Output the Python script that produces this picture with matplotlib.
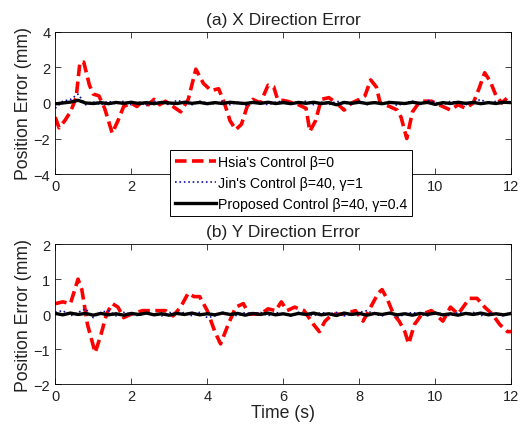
import numpy as np
import matplotlib
matplotlib.use("Agg")
import matplotlib.pyplot as plt

plt.rcParams['font.family'] = ['Liberation Sans', 'DejaVu Sans']

# Hsia's control (beta=0), X direction: (time, error) breakpoints
hsia_x_t = [0.0, 0.1, 0.25, 0.4, 0.55, 0.65, 0.75, 0.9, 1.0, 1.15, 1.3, 1.5, 1.65, 1.8,
            2.0, 2.15, 2.3, 2.45, 2.6, 2.75, 2.9, 3.1, 3.3, 3.5, 3.7, 3.9, 4.1, 4.3, 4.45,
            4.6, 4.75, 4.9, 5.05, 5.2, 5.4, 5.6, 5.75, 5.85, 6.1, 6.4, 6.6, 6.7, 6.85, 7.0,
            7.2, 7.4, 7.6, 7.8, 8.0, 8.15, 8.3, 8.45, 8.55, 8.8, 9.0, 9.1, 9.25, 9.4, 9.6,
            9.9, 10.2, 10.4, 10.6, 10.8, 11.0, 11.15, 11.3, 11.45, 11.6, 11.75, 11.9, 12.0]
hsia_x = [-0.8, -1.4, -1.0, -0.5, 0.3, 2.3, 2.3, 1.0, 0.5, 0.4, -0.3, -1.7, -1.0, -0.2,
          0.0, -0.2, 0.1, -0.1, 0.2, -0.1, 0.1, -0.2, -0.5, 0.2, 1.9, 1.1, 0.7, 0.8, 0.0,
          -1.0, -1.5, -1.2, -0.2, 0.2, 0.0, 1.0, 0.9, 0.2, 0.1, -0.1, -0.3, -1.6, -1.0, 0.2,
          0.3, 0.0, -0.4, 0.0, 0.2, 0.4, 1.3, 0.9, 0.0, -0.2, -0.4, -0.8, -2.0, -0.5, 0.1,
          0.1, -0.2, -0.4, -0.1, -0.3, 0.0, 0.8, 1.7, 1.2, 0.4, 0.0, 0.3, 0.2]

# Hsia's control, Y direction
hsia_y_t = [0.0, 0.2, 0.4, 0.6, 0.7, 0.85, 1.05, 1.2, 1.35, 1.5, 1.65, 1.8, 2.0, 2.3, 2.6,
            2.9, 3.1, 3.3, 3.5, 3.65, 3.8, 4.0, 4.2, 4.35, 4.55, 4.75, 4.95, 5.1, 5.4, 5.6,
            5.8, 5.95, 6.1, 6.3, 6.55, 6.8, 6.95, 7.1, 7.3, 7.6, 7.9, 8.1, 8.3, 8.5, 8.6,
            8.75, 8.9, 9.05, 9.2, 9.3, 9.45, 9.65, 9.9, 10.2, 10.4, 10.6, 10.9, 11.1, 11.3,
            11.5, 11.7, 11.9, 12.0]
hsia_y = [0.3, 0.35, 0.3, 1.0, 0.7, -0.3, -1.1, -0.6, 0.0, 0.3, 0.2, -0.1, 0.0, 0.1, 0.1,
          0.1, -0.05, 0.2, 0.6, 0.5, 0.5, 0.1, -0.5, -0.85, -0.3, 0.2, 0.3, 0.0, 0.0, 0.15,
          0.1, 0.35, 0.1, 0.2, 0.1, -0.3, -0.5, -0.2, 0.0, 0.0, 0.1, -0.2, 0.2, 0.6, 0.7,
          0.4, 0.0, -0.2, -0.5, -0.85, -0.3, 0.0, 0.1, -0.2, 0.2, 0.0, 0.45, 0.45, 0.2,
          0.0, -0.3, -0.5, -0.5]

# Jin's and proposed control, sampled every 0.2 s
t_fine = np.arange(61) * 0.2
jin_x = [-0.3, 0.1, 0.2, 0.5, -0.1, 0.05, -0.1, 0.1, -0.05, 0.1, -0.1, 0.05, -0.15, 0.1,
         0.0, -0.1, 0.15, 0.05, -0.1, 0.1, 0.0, -0.05, 0.1, -0.1, 0.05, -0.15, 0.1, 0.0,
         -0.1, 0.05, 0.1, -0.05, 0.0, 0.1, -0.1, 0.05, -0.1, 0.1, 0.0, -0.05, 0.1, -0.1,
         0.05, -0.05, 0.1, -0.15, 0.0, 0.1, -0.1, 0.15, 0.05, -0.1, 0.1, 0.0, -0.1, 0.05,
         0.2, -0.05, 0.1, 0.0, 0.1]
prop_x = [-0.05, 0.0, 0.05, 0.15, 0.0, -0.03, 0.02, -0.04, 0.03, -0.02, 0.04, -0.03, 0.02,
          -0.04, 0.03, 0.0, -0.03, 0.04, -0.02, 0.03, -0.04, 0.02, -0.03, 0.04, 0.0, -0.03,
          0.03, -0.02, 0.04, -0.03, 0.02, -0.04, 0.03, -0.02, 0.04, -0.03, 0.02, -0.1, 0.03,
          -0.02, 0.04, -0.03, 0.02, -0.04, 0.03, 0.0, -0.03, 0.04, -0.02, 0.03, -0.08, 0.02,
          -0.03, 0.04, -0.02, 0.03, -0.04, 0.02, -0.03, 0.04, 0.02]
jin_y = [0.05, 0.1, -0.05, 0.05, 0.15, -0.1, 0.05, 0.1, -0.05, 0.05, 0.0, -0.05, 0.05,
         0.0, -0.05, 0.05, 0.0, 0.05, -0.05, 0.05, -0.1, -0.05, 0.05, 0.0, -0.05, 0.05,
         0.0, 0.05, -0.05, 0.05, 0.0, -0.05, 0.05, 0.0, -0.05, 0.05, 0.0, 0.05, -0.05,
         0.0, 0.05, 0.1, 0.0, -0.05, 0.05, -0.1, 0.0, 0.05, 0.0, -0.05, 0.05, 0.0, -0.05,
         0.05, 0.0, 0.05, -0.05, 0.05, 0.0, -0.05, 0.05]
prop_y = [0.02, -0.02, 0.03, -0.01, 0.02, -0.03, 0.02, -0.02, 0.01, -0.03, 0.02, -0.01,
          0.03, -0.02, 0.01, -0.03, 0.02, -0.01, 0.03, -0.02, 0.01, -0.02, 0.03, -0.01,
          0.02, -0.03, 0.02, -0.01, 0.03, -0.02, 0.01, -0.03, 0.02, -0.01, 0.03, -0.02,
          0.01, -0.04, 0.03, -0.01, 0.02, -0.03, 0.02, -0.01, 0.03, -0.02, 0.01, -0.03,
          0.02, -0.01, 0.03, -0.02, 0.01, -0.03, 0.02, -0.01, 0.03, -0.02, 0.01, -0.02, 0.02]

labels = ["Hsia's Control β=0", "Jin's Control β=40, γ=1", "Proposed Control β=40, γ=0.4"]


def style_axes(ax, yticks):
    ax.set_xlim(0, 12)
    ax.set_ylim(yticks[0], yticks[-1])
    ax.set_xticks(range(0, 13, 2))
    ax.set_yticks(yticks)
    ax.tick_params(direction='in', top=True, right=True, labelsize=10.5, length=4, width=0.6,
                   colors='#222222')
    for s in ax.spines.values():
        s.set_linewidth(0.6)
    ax.set_ylabel('Position Error (mm)', fontsize=12.7, labelpad=1, color='#222222')


fig = plt.figure(figsize=(5.26, 4.27), dpi=100)
ax1 = fig.add_axes([0.105, 0.590, 0.867, 0.333])
ax2 = fig.add_axes([0.105, 0.098, 0.867, 0.328])

for ax, hx, hy, jy, py in [(ax1, hsia_x_t, hsia_x, jin_x, prop_x),
                           (ax2, hsia_y_t, hsia_y, jin_y, prop_y)]:
    l1, = ax.plot(hx, hy, color='red', lw=2.6, dashes=(3.2, 1.5))
    l2, = ax.plot(t_fine, jy, color='#1010b0', lw=1.2, ls=':')
    l3, = ax.plot(t_fine, py, color='black', lw=2.4)

style_axes(ax1, [-4, -2, 0, 2, 4])
style_axes(ax2, [-2, -1, 0, 1, 2])
ax1.set_title('(a) X Direction Error', fontsize=12.5, pad=6, color='#222222')
ax2.set_title('(b) Y Direction Error', fontsize=12.5, pad=6, color='#222222')
ax2.set_xlabel('Time (s)', fontsize=12.7, labelpad=1, color='#222222')

leg = fig.legend([l1, l2, l3], labels, loc='upper left', bbox_to_anchor=(0.323, 0.647),
                 fontsize=10.2, handlelength=2.9, handletextpad=0.15, borderpad=0.35,
                 labelspacing=0.5, borderaxespad=0, fancybox=False, framealpha=1,
                 edgecolor='black')
leg.get_frame().set_linewidth(0.7)

fig.savefig('out.png', dpi=100)
